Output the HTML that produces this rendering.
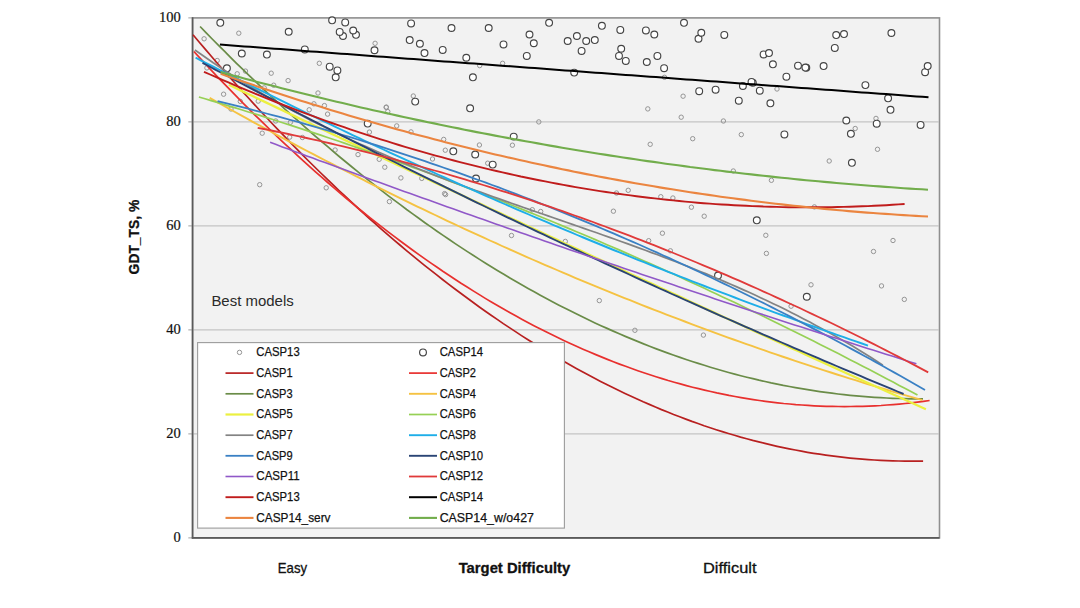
<!DOCTYPE html><html><head><meta charset="utf-8"><title>GDT_TS vs Target Difficulty</title><style>html,body{margin:0;padding:0;background:#fff;width:1080px;height:608px;overflow:hidden}svg{display:block}.ax{font-family:"Liberation Serif",serif;font-size:14.5px;fill:#111;stroke:#111;stroke-width:0.2px}.lg{font-family:"Liberation Sans",sans-serif;font-size:13px;fill:#111;stroke:#111;stroke-width:0.25px}.lb{font-family:"Liberation Sans",sans-serif;font-size:14.8px;fill:#111;stroke:#111;stroke-width:0.3px}</style></head><body>
<svg width="1080" height="608" viewBox="0 0 1080 608">
<rect x="0" y="0" width="1080" height="608" fill="#ffffff"/>
<rect x="192.5" y="17.9" width="747" height="520" fill="#f2f2f2" stroke="#8f8f8f" stroke-width="1.6"/>
<line x1="193" x2="939" y1="433.9" y2="433.9" stroke="#c4c4c4" stroke-width="1.3"/>
<line x1="193" x2="939" y1="329.9" y2="329.9" stroke="#c4c4c4" stroke-width="1.3"/>
<line x1="193" x2="939" y1="225.9" y2="225.9" stroke="#c4c4c4" stroke-width="1.3"/>
<line x1="193" x2="939" y1="121.9" y2="121.9" stroke="#c4c4c4" stroke-width="1.3"/>
<line x1="188.3" x2="192.5" y1="537.9" y2="537.9" stroke="#a0a0a0" stroke-width="1"/>
<line x1="188.3" x2="192.5" y1="433.9" y2="433.9" stroke="#a0a0a0" stroke-width="1"/>
<line x1="188.3" x2="192.5" y1="329.9" y2="329.9" stroke="#a0a0a0" stroke-width="1"/>
<line x1="188.3" x2="192.5" y1="225.9" y2="225.9" stroke="#a0a0a0" stroke-width="1"/>
<line x1="188.3" x2="192.5" y1="121.9" y2="121.9" stroke="#a0a0a0" stroke-width="1"/>
<line x1="188.3" x2="192.5" y1="17.9" y2="17.9" stroke="#a0a0a0" stroke-width="1"/>
<line x1="192.6" x2="192.6" y1="17.2" y2="538.6" stroke="#5a5a5a" stroke-width="1.6"/>
<line x1="191.8" x2="939.5" y1="537.9" y2="537.9" stroke="#5a5a5a" stroke-width="1.6"/>
<text class="ax" x="180.8" y="541.9" text-anchor="end">0</text>
<text class="ax" x="180.8" y="437.9" text-anchor="end">20</text>
<text class="ax" x="180.8" y="333.9" text-anchor="end">40</text>
<text class="ax" x="180.8" y="229.9" text-anchor="end">60</text>
<text class="ax" x="180.8" y="125.9" text-anchor="end">80</text>
<text class="ax" x="180.8" y="21.9" text-anchor="end">100</text>
<g fill="none" stroke="#959595" stroke-width="1">
<circle cx="238.8" cy="33.2" r="2.2"/>
<circle cx="204.1" cy="38.8" r="2.2"/>
<circle cx="375.1" cy="43.3" r="2.2"/>
<circle cx="217.2" cy="60.5" r="2.2"/>
<circle cx="206.9" cy="67.9" r="2.2"/>
<circle cx="237.2" cy="73.8" r="2.2"/>
<circle cx="245.5" cy="71.1" r="2.2"/>
<circle cx="271.2" cy="73.2" r="2.2"/>
<circle cx="288.1" cy="80.6" r="2.2"/>
<circle cx="319.3" cy="63.3" r="2.2"/>
<circle cx="273.7" cy="85.2" r="2.2"/>
<circle cx="264.2" cy="87.9" r="2.2"/>
<circle cx="223.6" cy="94.2" r="2.2"/>
<circle cx="240.3" cy="101.4" r="2.2"/>
<circle cx="258.2" cy="101.1" r="2.2"/>
<circle cx="318.0" cy="93.0" r="2.2"/>
<circle cx="313.9" cy="103.8" r="2.2"/>
<circle cx="324.4" cy="105.6" r="2.2"/>
<circle cx="309.2" cy="109.8" r="2.2"/>
<circle cx="327.6" cy="114.1" r="2.2"/>
<circle cx="386.2" cy="107.4" r="2.2"/>
<circle cx="387.8" cy="111.6" r="2.2"/>
<circle cx="231.0" cy="109.0" r="2.2"/>
<circle cx="275.7" cy="121.0" r="2.2"/>
<circle cx="290.4" cy="122.3" r="2.2"/>
<circle cx="262.2" cy="133.2" r="2.2"/>
<circle cx="289.7" cy="137.1" r="2.2"/>
<circle cx="302.4" cy="137.5" r="2.2"/>
<circle cx="335.1" cy="150.0" r="2.2"/>
<circle cx="358.0" cy="154.6" r="2.2"/>
<circle cx="379.2" cy="159.3" r="2.2"/>
<circle cx="384.8" cy="167.2" r="2.2"/>
<circle cx="259.7" cy="184.7" r="2.2"/>
<circle cx="326.2" cy="187.8" r="2.2"/>
<circle cx="389.4" cy="201.6" r="2.2"/>
<circle cx="369.4" cy="132.1" r="2.2"/>
<circle cx="396.7" cy="125.9" r="2.2"/>
<circle cx="411.0" cy="131.9" r="2.2"/>
<circle cx="400.9" cy="177.9" r="2.2"/>
<circle cx="413.3" cy="96.0" r="2.2"/>
<circle cx="386.3" cy="107.1" r="2.2"/>
<circle cx="443.7" cy="139.4" r="2.2"/>
<circle cx="479.4" cy="145.0" r="2.2"/>
<circle cx="512.4" cy="145.2" r="2.2"/>
<circle cx="445.3" cy="150.2" r="2.2"/>
<circle cx="432.5" cy="159.0" r="2.2"/>
<circle cx="487.7" cy="163.2" r="2.2"/>
<circle cx="421.8" cy="178.4" r="2.2"/>
<circle cx="444.6" cy="193.6" r="2.2"/>
<circle cx="445.6" cy="194.6" r="2.2"/>
<circle cx="532.3" cy="209.7" r="2.2"/>
<circle cx="540.7" cy="211.5" r="2.2"/>
<circle cx="538.8" cy="121.9" r="2.2"/>
<circle cx="479.7" cy="65.6" r="2.2"/>
<circle cx="502.6" cy="63.3" r="2.2"/>
<circle cx="664.5" cy="77.3" r="2.2"/>
<circle cx="683.1" cy="96.2" r="2.2"/>
<circle cx="647.8" cy="108.9" r="2.2"/>
<circle cx="681.2" cy="117.2" r="2.2"/>
<circle cx="723.4" cy="121.0" r="2.2"/>
<circle cx="777.0" cy="89.0" r="2.2"/>
<circle cx="876.0" cy="118.4" r="2.2"/>
<circle cx="855.2" cy="128.5" r="2.2"/>
<circle cx="650.2" cy="144.3" r="2.2"/>
<circle cx="692.7" cy="138.7" r="2.2"/>
<circle cx="741.3" cy="134.6" r="2.2"/>
<circle cx="733.3" cy="171.0" r="2.2"/>
<circle cx="771.4" cy="180.3" r="2.2"/>
<circle cx="616.5" cy="193.0" r="2.2"/>
<circle cx="628.2" cy="190.3" r="2.2"/>
<circle cx="660.8" cy="196.7" r="2.2"/>
<circle cx="672.9" cy="198.0" r="2.2"/>
<circle cx="691.4" cy="207.2" r="2.2"/>
<circle cx="613.4" cy="211.2" r="2.2"/>
<circle cx="877.5" cy="149.3" r="2.2"/>
<circle cx="829.2" cy="161.0" r="2.2"/>
<circle cx="814.4" cy="206.9" r="2.2"/>
<circle cx="704.2" cy="216.2" r="2.2"/>
<circle cx="662.4" cy="233.2" r="2.2"/>
<circle cx="648.7" cy="240.7" r="2.2"/>
<circle cx="670.4" cy="250.8" r="2.2"/>
<circle cx="765.8" cy="235.3" r="2.2"/>
<circle cx="766.4" cy="253.4" r="2.2"/>
<circle cx="791.1" cy="306.2" r="2.2"/>
<circle cx="811.0" cy="284.8" r="2.2"/>
<circle cx="599.3" cy="300.6" r="2.2"/>
<circle cx="634.9" cy="330.3" r="2.2"/>
<circle cx="703.4" cy="335.1" r="2.2"/>
<circle cx="511.5" cy="235.5" r="2.2"/>
<circle cx="565.3" cy="241.4" r="2.2"/>
<circle cx="893.0" cy="240.5" r="2.2"/>
<circle cx="873.5" cy="251.5" r="2.2"/>
<circle cx="881.5" cy="285.9" r="2.2"/>
<circle cx="904.3" cy="299.4" r="2.2"/>
</g>
<g fill="#ffffff" stroke="#454545" stroke-width="1.15">
<circle cx="806.8" cy="296.7" r="3.4"/>
<circle cx="718.0" cy="275.5" r="3.4"/>
<circle cx="756.8" cy="220.3" r="3.4"/>
<circle cx="476.0" cy="178.5" r="3.4"/>
<circle cx="492.7" cy="164.6" r="3.4"/>
<circle cx="851.9" cy="162.8" r="3.4"/>
<circle cx="475.2" cy="154.5" r="3.4"/>
<circle cx="453.3" cy="151.3" r="3.4"/>
<circle cx="513.7" cy="136.6" r="3.4"/>
<circle cx="784.4" cy="134.4" r="3.4"/>
<circle cx="850.9" cy="133.8" r="3.4"/>
<circle cx="920.6" cy="124.9" r="3.4"/>
<circle cx="876.7" cy="123.7" r="3.4"/>
<circle cx="367.7" cy="123.6" r="3.4"/>
<circle cx="846.3" cy="120.5" r="3.4"/>
<circle cx="890.5" cy="109.8" r="3.4"/>
<circle cx="470.1" cy="108.3" r="3.4"/>
<circle cx="770.4" cy="103.3" r="3.4"/>
<circle cx="415.2" cy="101.6" r="3.4"/>
<circle cx="738.8" cy="100.7" r="3.4"/>
<circle cx="888.1" cy="98.3" r="3.4"/>
<circle cx="699.2" cy="91.2" r="3.4"/>
<circle cx="759.8" cy="90.7" r="3.4"/>
<circle cx="715.6" cy="89.7" r="3.4"/>
<circle cx="742.9" cy="86.0" r="3.4"/>
<circle cx="865.4" cy="85.1" r="3.4"/>
<circle cx="752.8" cy="82.8" r="3.4"/>
<circle cx="751.5" cy="81.9" r="3.4"/>
<circle cx="335.7" cy="77.3" r="3.4"/>
<circle cx="472.9" cy="77.3" r="3.4"/>
<circle cx="786.4" cy="76.7" r="3.4"/>
<circle cx="574.2" cy="72.6" r="3.4"/>
<circle cx="925.1" cy="72.2" r="3.4"/>
<circle cx="337.4" cy="70.4" r="3.4"/>
<circle cx="226.9" cy="68.3" r="3.4"/>
<circle cx="664.1" cy="68.2" r="3.4"/>
<circle cx="806.3" cy="67.8" r="3.4"/>
<circle cx="805.4" cy="67.6" r="3.4"/>
<circle cx="329.7" cy="66.7" r="3.4"/>
<circle cx="823.6" cy="66.1" r="3.4"/>
<circle cx="927.7" cy="66.1" r="3.4"/>
<circle cx="798.0" cy="65.7" r="3.4"/>
<circle cx="772.9" cy="64.3" r="3.4"/>
<circle cx="646.8" cy="62.0" r="3.4"/>
<circle cx="625.8" cy="60.9" r="3.4"/>
<circle cx="466.3" cy="57.8" r="3.4"/>
<circle cx="526.8" cy="55.9" r="3.4"/>
<circle cx="619.0" cy="55.9" r="3.4"/>
<circle cx="657.4" cy="55.9" r="3.4"/>
<circle cx="266.9" cy="54.6" r="3.4"/>
<circle cx="763.6" cy="54.4" r="3.4"/>
<circle cx="241.8" cy="53.5" r="3.4"/>
<circle cx="424.5" cy="53.1" r="3.4"/>
<circle cx="769.0" cy="53.1" r="3.4"/>
<circle cx="581.6" cy="50.9" r="3.4"/>
<circle cx="374.5" cy="50.3" r="3.4"/>
<circle cx="442.7" cy="49.9" r="3.4"/>
<circle cx="304.8" cy="49.4" r="3.4"/>
<circle cx="621.2" cy="48.8" r="3.4"/>
<circle cx="834.8" cy="47.9" r="3.4"/>
<circle cx="503.5" cy="44.4" r="3.4"/>
<circle cx="419.9" cy="43.8" r="3.4"/>
<circle cx="533.8" cy="43.3" r="3.4"/>
<circle cx="567.7" cy="41.0" r="3.4"/>
<circle cx="586.2" cy="41.0" r="3.4"/>
<circle cx="409.7" cy="40.1" r="3.4"/>
<circle cx="594.8" cy="40.1" r="3.4"/>
<circle cx="698.5" cy="38.8" r="3.4"/>
<circle cx="343.0" cy="36.0" r="3.4"/>
<circle cx="576.9" cy="36.0" r="3.4"/>
<circle cx="836.2" cy="35.1" r="3.4"/>
<circle cx="724.3" cy="34.9" r="3.4"/>
<circle cx="356.0" cy="34.8" r="3.4"/>
<circle cx="529.5" cy="34.5" r="3.4"/>
<circle cx="654.3" cy="34.5" r="3.4"/>
<circle cx="844.0" cy="34.1" r="3.4"/>
<circle cx="891.4" cy="33.0" r="3.4"/>
<circle cx="701.3" cy="32.7" r="3.4"/>
<circle cx="339.7" cy="31.9" r="3.4"/>
<circle cx="288.7" cy="31.7" r="3.4"/>
<circle cx="353.2" cy="30.5" r="3.4"/>
<circle cx="645.9" cy="30.4" r="3.4"/>
<circle cx="620.3" cy="29.9" r="3.4"/>
<circle cx="451.5" cy="28.0" r="3.4"/>
<circle cx="488.7" cy="28.0" r="3.4"/>
<circle cx="601.9" cy="25.8" r="3.4"/>
<circle cx="411.1" cy="23.4" r="3.4"/>
<circle cx="220.3" cy="22.8" r="3.4"/>
<circle cx="549.1" cy="22.8" r="3.4"/>
<circle cx="684.0" cy="22.8" r="3.4"/>
<circle cx="345.2" cy="22.4" r="3.4"/>
<circle cx="332.1" cy="20.3" r="3.4"/>
</g>
<g fill="none" stroke-linecap="butt" stroke-linejoin="round">
<path d="M193.0 34.8 L199.1 42.0 L205.2 49.1 L211.3 56.2 L217.3 63.2 L223.4 70.1 L229.5 77.0 L235.6 83.8 L241.7 90.6 L247.8 97.3 L253.8 103.9 L259.9 110.5 L266.0 117.0 L272.1 123.5 L278.2 129.9 L284.3 136.2 L290.3 142.5 L296.4 148.7 L302.5 154.9 L308.6 161.0 L314.7 167.0 L320.8 173.0 L326.9 178.9 L332.9 184.7 L339.0 190.5 L345.1 196.2 L351.2 201.9 L357.3 207.5 L363.4 213.0 L369.4 218.5 L375.5 223.9 L381.6 229.3 L387.7 234.6 L393.8 239.8 L399.9 245.0 L405.9 250.1 L412.0 255.1 L418.1 260.1 L424.2 265.1 L430.3 269.9 L436.4 274.7 L442.5 279.5 L448.5 284.2 L454.6 288.8 L460.7 293.3 L466.8 297.8 L472.9 302.3 L479.0 306.7 L485.0 311.0 L491.1 315.2 L497.2 319.4 L503.3 323.6 L509.4 327.6 L515.5 331.6 L521.5 335.6 L527.6 339.5 L533.7 343.3 L539.8 347.1 L545.9 350.8 L552.0 354.4 L558.0 358.0 L564.1 361.5 L570.2 365.0 L576.3 368.4 L582.4 371.7 L588.5 375.0 L594.6 378.2 L600.6 381.4 L606.7 384.5 L612.8 387.5 L618.9 390.5 L625.0 393.4 L631.1 396.2 L637.1 399.0 L643.2 401.8 L649.3 404.4 L655.4 407.0 L661.5 409.6 L667.6 412.0 L673.6 414.5 L679.7 416.8 L685.8 419.1 L691.9 421.4 L698.0 423.5 L704.1 425.7 L710.2 427.7 L716.2 429.7 L722.3 431.6 L728.4 433.5 L734.5 435.3 L740.6 437.1 L746.7 438.7 L752.7 440.4 L758.8 441.9 L764.9 443.4 L771.0 444.9 L777.1 446.3 L783.2 447.6 L789.2 448.8 L795.3 450.0 L801.4 451.2 L807.5 452.3 L813.6 453.3 L819.7 454.2 L825.8 455.1 L831.8 455.9 L837.9 456.7 L844.0 457.4 L850.1 458.1 L856.2 458.7 L862.3 459.2 L868.3 459.6 L874.4 460.0 L880.5 460.4 L886.6 460.7 L892.7 460.9 L898.8 461.0 L904.8 461.1 L910.9 461.2 L917.0 461.1 L923.1 461.1" stroke="#b82020" stroke-width="1.7"/>
<path d="M193.9 51.5 L200.0 58.1 L206.1 64.7 L212.1 71.1 L218.2 77.6 L224.3 83.9 L230.4 90.2 L236.5 96.4 L242.5 102.6 L248.6 108.7 L254.7 114.8 L260.8 120.7 L266.9 126.7 L272.9 132.5 L279.0 138.3 L285.1 144.1 L291.2 149.7 L297.3 155.4 L303.3 160.9 L309.4 166.4 L315.5 171.8 L321.6 177.2 L327.7 182.5 L333.7 187.7 L339.8 192.9 L345.9 198.0 L352.0 203.1 L358.1 208.1 L364.1 213.0 L370.2 217.9 L376.3 222.7 L382.4 227.4 L388.5 232.1 L394.5 236.7 L400.6 241.3 L406.7 245.8 L412.8 250.2 L418.9 254.6 L424.9 258.9 L431.0 263.1 L437.1 267.3 L443.2 271.5 L449.3 275.5 L455.3 279.5 L461.4 283.5 L467.5 287.3 L473.6 291.1 L479.7 294.9 L485.7 298.6 L491.8 302.2 L497.9 305.8 L504.0 309.3 L510.1 312.7 L516.1 316.1 L522.2 319.4 L528.3 322.7 L534.4 325.9 L540.5 329.0 L546.5 332.1 L552.6 335.1 L558.7 338.0 L564.8 340.9 L570.9 343.7 L577.0 346.5 L583.0 349.2 L589.1 351.8 L595.2 354.4 L601.3 356.9 L607.4 359.4 L613.4 361.8 L619.5 364.1 L625.6 366.3 L631.7 368.5 L637.8 370.7 L643.8 372.8 L649.9 374.8 L656.0 376.7 L662.1 378.6 L668.2 380.5 L674.2 382.2 L680.3 383.9 L686.4 385.6 L692.5 387.2 L698.6 388.7 L704.6 390.1 L710.7 391.5 L716.8 392.9 L722.9 394.1 L729.0 395.4 L735.0 396.5 L741.1 397.6 L747.2 398.6 L753.3 399.6 L759.4 400.5 L765.4 401.3 L771.5 402.1 L777.6 402.8 L783.7 403.5 L789.8 404.0 L795.8 404.6 L801.9 405.0 L808.0 405.4 L814.1 405.8 L820.2 406.1 L826.2 406.3 L832.3 406.4 L838.4 406.5 L844.5 406.6 L850.6 406.5 L856.6 406.4 L862.7 406.3 L868.8 406.1 L874.9 405.8 L881.0 405.5 L887.0 405.0 L893.1 404.6 L899.2 404.1 L905.3 403.5 L911.4 402.8 L917.4 402.1 L923.5 401.3 L929.6 400.5" stroke="#e8302e" stroke-width="1.7"/>
<path d="M200.1 26.5 L206.2 32.8 L212.2 39.0 L218.3 45.1 L224.4 51.2 L230.5 57.3 L236.5 63.3 L242.6 69.2 L248.7 75.1 L254.8 80.9 L260.8 86.7 L266.9 92.4 L273.0 98.1 L279.1 103.7 L285.1 109.3 L291.2 114.8 L297.3 120.2 L303.4 125.6 L309.4 131.0 L315.5 136.3 L321.6 141.5 L327.7 146.7 L333.7 151.9 L339.8 157.0 L345.9 162.0 L352.0 167.0 L358.0 171.9 L364.1 176.8 L370.2 181.6 L376.3 186.4 L382.3 191.1 L388.4 195.8 L394.5 200.4 L400.6 204.9 L406.6 209.5 L412.7 213.9 L418.8 218.3 L424.9 222.7 L430.9 226.9 L437.0 231.2 L443.1 235.4 L449.2 239.5 L455.2 243.6 L461.3 247.6 L467.4 251.6 L473.5 255.5 L479.5 259.4 L485.6 263.2 L491.7 267.0 L497.8 270.7 L503.8 274.3 L509.9 277.9 L516.0 281.5 L522.1 285.0 L528.1 288.4 L534.2 291.8 L540.3 295.2 L546.4 298.5 L552.4 301.7 L558.5 304.9 L564.6 308.0 L570.7 311.1 L576.7 314.1 L582.8 317.1 L588.9 320.0 L595.0 322.9 L601.0 325.7 L607.1 328.4 L613.2 331.1 L619.3 333.8 L625.3 336.4 L631.4 338.9 L637.5 341.4 L643.6 343.9 L649.6 346.2 L655.7 348.6 L661.8 350.9 L667.9 353.1 L673.9 355.3 L680.0 357.4 L686.1 359.5 L692.2 361.5 L698.2 363.4 L704.3 365.3 L710.4 367.2 L716.5 369.0 L722.5 370.8 L728.6 372.5 L734.7 374.1 L740.8 375.7 L746.8 377.2 L752.9 378.7 L759.0 380.2 L765.1 381.5 L771.1 382.9 L777.2 384.1 L783.3 385.4 L789.4 386.5 L795.4 387.6 L801.5 388.7 L807.6 389.7 L813.7 390.7 L819.7 391.6 L825.8 392.4 L831.9 393.2 L838.0 394.0 L844.0 394.7 L850.1 395.3 L856.2 395.9 L862.3 396.4 L868.3 396.9 L874.4 397.3 L880.5 397.7 L886.6 398.0 L892.6 398.3 L898.7 398.5 L904.8 398.7 L910.9 398.8 L916.9 398.8 L923.0 398.8" stroke="#6a8c48" stroke-width="1.7"/>
<path d="M209.7 97.9 L215.8 101.3 L221.9 104.7 L228.0 108.1 L234.1 111.5 L240.2 114.9 L246.2 118.2 L252.3 121.6 L258.4 124.9 L264.5 128.2 L270.6 131.5 L276.7 134.8 L282.8 138.1 L288.9 141.3 L295.0 144.6 L301.1 147.8 L307.1 151.0 L313.2 154.2 L319.3 157.4 L325.4 160.5 L331.5 163.7 L337.6 166.8 L343.7 169.9 L349.8 173.0 L355.9 176.1 L362.0 179.2 L368.1 182.3 L374.1 185.3 L380.2 188.4 L386.3 191.4 L392.4 194.4 L398.5 197.4 L404.6 200.3 L410.7 203.3 L416.8 206.3 L422.9 209.2 L429.0 212.1 L435.1 215.0 L441.1 217.9 L447.2 220.8 L453.3 223.6 L459.4 226.5 L465.5 229.3 L471.6 232.1 L477.7 234.9 L483.8 237.7 L489.9 240.5 L496.0 243.2 L502.0 246.0 L508.1 248.7 L514.2 251.4 L520.3 254.1 L526.4 256.8 L532.5 259.5 L538.6 262.1 L544.7 264.8 L550.8 267.4 L556.9 270.0 L563.0 272.6 L569.0 275.2 L575.1 277.8 L581.2 280.3 L587.3 282.9 L593.4 285.4 L599.5 287.9 L605.6 290.4 L611.7 292.9 L617.8 295.3 L623.9 297.8 L630.0 300.2 L636.0 302.7 L642.1 305.1 L648.2 307.5 L654.3 309.8 L660.4 312.2 L666.5 314.6 L672.6 316.9 L678.7 319.2 L684.8 321.5 L690.9 323.8 L696.9 326.1 L703.0 328.4 L709.1 330.6 L715.2 332.8 L721.3 335.1 L727.4 337.3 L733.5 339.5 L739.6 341.6 L745.7 343.8 L751.8 345.9 L757.9 348.1 L763.9 350.2 L770.0 352.3 L776.1 354.4 L782.2 356.5 L788.3 358.5 L794.4 360.6 L800.5 362.6 L806.6 364.6 L812.7 366.6 L818.8 368.6 L824.9 370.6 L830.9 372.5 L837.0 374.5 L843.1 376.4 L849.2 378.3 L855.3 380.2 L861.4 382.1 L867.5 384.0 L873.6 385.8 L879.7 387.7 L885.8 389.5 L891.8 391.3 L897.9 393.1 L904.0 394.9 L910.1 396.7 L916.2 398.4 L922.3 400.2" stroke="#f5c242" stroke-width="1.9"/>
<path d="M228.9 84.8 L235.0 87.7 L241.0 90.6 L247.1 93.5 L253.1 96.3 L259.2 99.2 L265.3 102.1 L271.3 105.0 L277.4 107.9 L283.4 110.8 L289.5 113.7 L295.6 116.6 L301.6 119.5 L307.7 122.3 L313.8 125.2 L319.8 128.1 L325.9 131.0 L331.9 133.9 L338.0 136.7 L344.1 139.6 L350.1 142.5 L356.2 145.3 L362.2 148.2 L368.3 151.1 L374.4 154.0 L380.4 156.8 L386.5 159.7 L392.5 162.5 L398.6 165.4 L404.7 168.3 L410.7 171.1 L416.8 174.0 L422.8 176.8 L428.9 179.7 L435.0 182.6 L441.0 185.4 L447.1 188.3 L453.2 191.1 L459.2 194.0 L465.3 196.8 L471.3 199.7 L477.4 202.5 L483.5 205.3 L489.5 208.2 L495.6 211.0 L501.6 213.9 L507.7 216.7 L513.8 219.5 L519.8 222.4 L525.9 225.2 L531.9 228.0 L538.0 230.9 L544.1 233.7 L550.1 236.5 L556.2 239.4 L562.2 242.2 L568.3 245.0 L574.4 247.8 L580.4 250.6 L586.5 253.5 L592.6 256.3 L598.6 259.1 L604.7 261.9 L610.7 264.7 L616.8 267.5 L622.9 270.4 L628.9 273.2 L635.0 276.0 L641.0 278.8 L647.1 281.6 L653.2 284.4 L659.2 287.2 L665.3 290.0 L671.3 292.8 L677.4 295.6 L683.5 298.4 L689.5 301.2 L695.6 304.0 L701.6 306.8 L707.7 309.6 L713.8 312.4 L719.8 315.2 L725.9 318.0 L732.0 320.7 L738.0 323.5 L744.1 326.3 L750.1 329.1 L756.2 331.9 L762.3 334.7 L768.3 337.4 L774.4 340.2 L780.4 343.0 L786.5 345.8 L792.6 348.6 L798.6 351.3 L804.7 354.1 L810.7 356.9 L816.8 359.6 L822.9 362.4 L828.9 365.2 L835.0 367.9 L841.0 370.7 L847.1 373.5 L853.2 376.2 L859.2 379.0 L865.3 381.7 L871.4 384.5 L877.4 387.2 L883.5 390.0 L889.5 392.8 L895.6 395.5 L901.7 398.3 L907.7 401.0 L913.8 403.8 L919.8 406.5 L925.9 409.2" stroke="#ecf040" stroke-width="2.3"/>
<path d="M198.9 97.0 L205.0 98.8 L211.1 100.6 L217.2 102.4 L223.3 104.2 L229.3 106.1 L235.4 107.9 L241.5 109.8 L247.6 111.7 L253.7 113.5 L259.8 115.4 L265.9 117.4 L272.0 119.3 L278.1 121.2 L284.2 123.2 L290.2 125.1 L296.3 127.1 L302.4 129.1 L308.5 131.1 L314.6 133.1 L320.7 135.1 L326.8 137.2 L332.9 139.2 L339.0 141.3 L345.1 143.4 L351.1 145.5 L357.2 147.6 L363.3 149.7 L369.4 151.8 L375.5 153.9 L381.6 156.1 L387.7 158.3 L393.8 160.4 L399.9 162.6 L406.0 164.8 L412.0 167.1 L418.1 169.3 L424.2 171.5 L430.3 173.8 L436.4 176.0 L442.5 178.3 L448.6 180.6 L454.7 182.9 L460.8 185.2 L466.9 187.6 L472.9 189.9 L479.0 192.3 L485.1 194.6 L491.2 197.0 L497.3 199.4 L503.4 201.8 L509.5 204.2 L515.6 206.7 L521.7 209.1 L527.8 211.6 L533.8 214.0 L539.9 216.5 L546.0 219.0 L552.1 221.5 L558.2 224.0 L564.3 226.6 L570.4 229.1 L576.5 231.7 L582.6 234.3 L588.6 236.8 L594.7 239.4 L600.8 242.0 L606.9 244.7 L613.0 247.3 L619.1 249.9 L625.2 252.6 L631.3 255.3 L637.4 258.0 L643.5 260.7 L649.5 263.4 L655.6 266.1 L661.7 268.8 L667.8 271.6 L673.9 274.3 L680.0 277.1 L686.1 279.9 L692.2 282.7 L698.3 285.5 L704.4 288.3 L710.4 291.2 L716.5 294.0 L722.6 296.9 L728.7 299.7 L734.8 302.6 L740.9 305.5 L747.0 308.4 L753.1 311.4 L759.2 314.3 L765.3 317.3 L771.3 320.2 L777.4 323.2 L783.5 326.2 L789.6 329.2 L795.7 332.2 L801.8 335.2 L807.9 338.3 L814.0 341.3 L820.1 344.4 L826.2 347.4 L832.2 350.5 L838.3 353.6 L844.4 356.8 L850.5 359.9 L856.6 363.0 L862.7 366.2 L868.8 369.3 L874.9 372.5 L881.0 375.7 L887.1 378.9 L893.1 382.1 L899.2 385.4 L905.3 388.6 L911.4 391.8 L917.5 395.1" stroke="#96d055" stroke-width="1.7"/>
<path d="M194.9 50.0 L201.0 54.3 L207.1 58.5 L213.2 62.7 L219.3 66.7 L225.3 70.7 L231.4 74.7 L237.5 78.6 L243.6 82.4 L249.7 86.1 L255.8 89.8 L261.9 93.4 L268.0 96.9 L274.1 100.4 L280.1 103.9 L286.2 107.2 L292.3 110.5 L298.4 113.8 L304.5 117.0 L310.6 120.2 L316.7 123.3 L322.8 126.3 L328.8 129.3 L334.9 132.3 L341.0 135.2 L347.1 138.1 L353.2 140.9 L359.3 143.7 L365.4 146.4 L371.5 149.1 L377.6 151.8 L383.6 154.4 L389.7 157.0 L395.8 159.6 L401.9 162.1 L408.0 164.6 L414.1 167.0 L420.2 169.5 L426.3 171.9 L432.4 174.2 L438.4 176.6 L444.5 178.9 L450.6 181.2 L456.7 183.5 L462.8 185.7 L468.9 188.0 L475.0 190.2 L481.1 192.4 L487.1 194.6 L493.2 196.8 L499.3 198.9 L505.4 201.1 L511.5 203.2 L517.6 205.4 L523.7 207.5 L529.8 209.6 L535.9 211.7 L541.9 213.8 L548.0 215.9 L554.1 218.0 L560.2 220.1 L566.3 222.2 L572.4 224.4 L578.5 226.5 L584.6 228.6 L590.7 230.7 L596.7 232.8 L602.8 235.0 L608.9 237.1 L615.0 239.3 L621.1 241.5 L627.2 243.6 L633.3 245.9 L639.4 248.1 L645.4 250.3 L651.5 252.6 L657.6 254.8 L663.7 257.1 L669.8 259.5 L675.9 261.8 L682.0 264.2 L688.1 266.6 L694.2 269.0 L700.2 271.5 L706.3 273.9 L712.4 276.5 L718.5 279.0 L724.6 281.6 L730.7 284.2 L736.8 286.9 L742.9 289.6 L749.0 292.3 L755.0 295.1 L761.1 297.9 L767.2 300.8 L773.3 303.7 L779.4 306.6 L785.5 309.6 L791.6 312.7 L797.7 315.8 L803.7 318.9 L809.8 322.1 L815.9 325.4 L822.0 328.7 L828.1 332.1 L834.2 335.5 L840.3 339.0 L846.4 342.5 L852.5 346.1 L858.5 349.8 L864.6 353.5 L870.7 357.3 L876.8 361.2 L882.9 365.1" stroke="#838383" stroke-width="1.7"/>
<path d="M195.6 57.7 L201.7 60.8 L207.7 63.8 L213.8 66.9 L219.8 70.0 L225.9 73.1 L231.9 76.1 L238.0 79.2 L244.1 82.2 L250.1 85.2 L256.2 88.2 L262.2 91.2 L268.3 94.2 L274.3 97.2 L280.4 100.2 L286.5 103.2 L292.5 106.1 L298.6 109.1 L304.6 112.0 L310.7 115.0 L316.8 117.9 L322.8 120.8 L328.9 123.7 L334.9 126.6 L341.0 129.5 L347.0 132.4 L353.1 135.3 L359.2 138.1 L365.2 141.0 L371.3 143.8 L377.3 146.6 L383.4 149.5 L389.4 152.3 L395.5 155.1 L401.6 157.9 L407.6 160.7 L413.7 163.4 L419.7 166.2 L425.8 169.0 L431.8 171.7 L437.9 174.5 L444.0 177.2 L450.0 179.9 L456.1 182.6 L462.1 185.3 L468.2 188.0 L474.3 190.7 L480.3 193.4 L486.4 196.1 L492.4 198.7 L498.5 201.4 L504.5 204.0 L510.6 206.6 L516.7 209.3 L522.7 211.9 L528.8 214.5 L534.8 217.1 L540.9 219.7 L546.9 222.2 L553.0 224.8 L559.1 227.4 L565.1 229.9 L571.2 232.4 L577.2 235.0 L583.3 237.5 L589.3 240.0 L595.4 242.5 L601.5 245.0 L607.5 247.5 L613.6 250.0 L619.6 252.4 L625.7 254.9 L631.8 257.3 L637.8 259.8 L643.9 262.2 L649.9 264.6 L656.0 267.0 L662.0 269.4 L668.1 271.8 L674.2 274.2 L680.2 276.6 L686.3 278.9 L692.3 281.3 L698.4 283.6 L704.4 286.0 L710.5 288.3 L716.6 290.6 L722.6 292.9 L728.7 295.2 L734.7 297.5 L740.8 299.8 L746.8 302.1 L752.9 304.4 L759.0 306.6 L765.0 308.9 L771.1 311.1 L777.1 313.3 L783.2 315.5 L789.3 317.7 L795.3 319.9 L801.4 322.1 L807.4 324.3 L813.5 326.5 L819.5 328.6 L825.6 330.8 L831.7 332.9 L837.7 335.1 L843.8 337.2 L849.8 339.3 L855.9 341.4 L861.9 343.5 L868.0 345.6" stroke="#1eaee8" stroke-width="1.9"/>
<path d="M217.6 101.2 L223.7 102.7 L229.8 104.2 L235.9 105.7 L242.0 107.2 L248.1 108.7 L254.2 110.3 L260.3 111.9 L266.4 113.5 L272.5 115.1 L278.6 116.7 L284.7 118.4 L290.8 120.0 L296.9 121.7 L303.0 123.4 L309.1 125.1 L315.2 126.9 L321.3 128.6 L327.4 130.4 L333.5 132.2 L339.6 134.0 L345.7 135.8 L351.8 137.7 L357.9 139.5 L364.0 141.4 L370.1 143.3 L376.2 145.2 L382.3 147.2 L388.4 149.1 L394.4 151.1 L400.5 153.1 L406.6 155.1 L412.7 157.1 L418.8 159.1 L424.9 161.2 L431.0 163.3 L437.1 165.3 L443.2 167.5 L449.3 169.6 L455.4 171.7 L461.5 173.9 L467.6 176.1 L473.7 178.3 L479.8 180.5 L485.9 182.7 L492.0 185.0 L498.1 187.2 L504.2 189.5 L510.3 191.8 L516.4 194.1 L522.5 196.5 L528.6 198.8 L534.7 201.2 L540.8 203.6 L546.9 206.0 L553.0 208.4 L559.1 210.9 L565.2 213.4 L571.3 215.8 L577.4 218.3 L583.5 220.8 L589.6 223.4 L595.7 225.9 L601.8 228.5 L607.9 231.1 L614.0 233.7 L620.1 236.3 L626.2 239.0 L632.3 241.6 L638.4 244.3 L644.5 247.0 L650.6 249.7 L656.7 252.4 L662.8 255.2 L668.9 257.9 L675.0 260.7 L681.1 263.5 L687.2 266.3 L693.3 269.2 L699.4 272.0 L705.5 274.9 L711.6 277.8 L717.7 280.7 L723.8 283.6 L729.9 286.5 L736.0 289.5 L742.1 292.5 L748.2 295.5 L754.2 298.5 L760.3 301.5 L766.4 304.5 L772.5 307.6 L778.6 310.7 L784.7 313.8 L790.8 316.9 L796.9 320.0 L803.0 323.2 L809.1 326.4 L815.2 329.6 L821.3 332.8 L827.4 336.0 L833.5 339.2 L839.6 342.5 L845.7 345.8 L851.8 349.1 L857.9 352.4 L864.0 355.7 L870.1 359.0 L876.2 362.4 L882.3 365.8 L888.4 369.2 L894.5 372.6 L900.6 376.0 L906.7 379.5 L912.8 383.0 L918.9 386.5 L925.0 390.0" stroke="#3a80c4" stroke-width="1.8"/>
<path d="M202.5 62.8 L208.6 66.0 L214.7 69.3 L220.8 72.5 L226.9 75.7 L233.0 79.0 L239.1 82.2 L245.2 85.4 L251.3 88.6 L257.4 91.8 L263.5 95.0 L269.6 98.2 L275.7 101.3 L281.8 104.5 L287.9 107.7 L293.9 110.8 L300.0 114.0 L306.1 117.1 L312.2 120.3 L318.3 123.4 L324.4 126.5 L330.5 129.6 L336.6 132.8 L342.7 135.9 L348.8 139.0 L354.9 142.1 L361.0 145.1 L367.1 148.2 L373.2 151.3 L379.3 154.4 L385.4 157.4 L391.5 160.5 L397.6 163.5 L403.7 166.6 L409.8 169.6 L415.9 172.6 L422.0 175.6 L428.1 178.7 L434.2 181.7 L440.3 184.7 L446.4 187.7 L452.5 190.7 L458.6 193.6 L464.7 196.6 L470.7 199.6 L476.8 202.6 L482.9 205.5 L489.0 208.5 L495.1 211.4 L501.2 214.3 L507.3 217.3 L513.4 220.2 L519.5 223.1 L525.6 226.0 L531.7 228.9 L537.8 231.8 L543.9 234.7 L550.0 237.6 L556.1 240.5 L562.2 243.4 L568.3 246.2 L574.4 249.1 L580.5 251.9 L586.6 254.8 L592.7 257.6 L598.8 260.5 L604.9 263.3 L611.0 266.1 L617.1 268.9 L623.2 271.7 L629.3 274.5 L635.4 277.3 L641.4 280.1 L647.5 282.9 L653.6 285.7 L659.7 288.5 L665.8 291.2 L671.9 294.0 L678.0 296.7 L684.1 299.5 L690.2 302.2 L696.3 304.9 L702.4 307.7 L708.5 310.4 L714.6 313.1 L720.7 315.8 L726.8 318.5 L732.9 321.2 L739.0 323.9 L745.1 326.6 L751.2 329.2 L757.3 331.9 L763.4 334.6 L769.5 337.2 L775.6 339.9 L781.7 342.5 L787.8 345.1 L793.9 347.8 L800.0 350.4 L806.1 353.0 L812.2 355.6 L818.2 358.2 L824.3 360.8 L830.4 363.4 L836.5 366.0 L842.6 368.6 L848.7 371.1 L854.8 373.7 L860.9 376.2 L867.0 378.8 L873.1 381.3 L879.2 383.9 L885.3 386.4 L891.4 388.9 L897.5 391.5 L903.6 394.0" stroke="#2a4475" stroke-width="1.9"/>
<path d="M270.1 142.3 L276.2 144.6 L282.3 146.9 L288.4 149.1 L294.5 151.4 L300.6 153.6 L306.7 155.9 L312.8 158.1 L318.9 160.4 L325.0 162.6 L331.1 164.8 L337.2 167.1 L343.3 169.3 L349.4 171.5 L355.5 173.7 L361.6 176.0 L367.7 178.2 L373.8 180.4 L379.8 182.6 L385.9 184.8 L392.0 187.0 L398.1 189.2 L404.2 191.4 L410.3 193.6 L416.4 195.8 L422.5 198.0 L428.6 200.1 L434.7 202.3 L440.8 204.5 L446.9 206.7 L453.0 208.8 L459.1 211.0 L465.2 213.2 L471.3 215.3 L477.4 217.5 L483.5 219.6 L489.6 221.8 L495.7 223.9 L501.8 226.0 L507.9 228.2 L514.0 230.3 L520.1 232.4 L526.2 234.6 L532.3 236.7 L538.4 238.8 L544.5 240.9 L550.6 243.1 L556.7 245.2 L562.8 247.3 L568.9 249.4 L575.0 251.5 L581.1 253.6 L587.2 255.7 L593.2 257.8 L599.3 259.8 L605.4 261.9 L611.5 264.0 L617.6 266.1 L623.7 268.2 L629.8 270.2 L635.9 272.3 L642.0 274.4 L648.1 276.4 L654.2 278.5 L660.3 280.5 L666.4 282.6 L672.5 284.6 L678.6 286.7 L684.7 288.7 L690.8 290.8 L696.9 292.8 L703.0 294.8 L709.1 296.8 L715.2 298.9 L721.3 300.9 L727.4 302.9 L733.5 304.9 L739.6 306.9 L745.7 308.9 L751.8 310.9 L757.9 312.9 L764.0 314.9 L770.1 316.9 L776.2 318.9 L782.3 320.9 L788.4 322.9 L794.5 324.9 L800.6 326.8 L806.7 328.8 L812.7 330.8 L818.8 332.8 L824.9 334.7 L831.0 336.7 L837.1 338.6 L843.2 340.6 L849.3 342.5 L855.4 344.5 L861.5 346.4 L867.6 348.4 L873.7 350.3 L879.8 352.2 L885.9 354.2 L892.0 356.1 L898.1 358.0 L904.2 359.9 L910.3 361.9 L916.4 363.8" stroke="#9058c8" stroke-width="1.6"/>
<path d="M257.7 127.8 L263.8 129.0 L269.9 130.2 L276.0 131.5 L282.1 132.7 L288.2 134.0 L294.3 135.3 L300.4 136.6 L306.5 138.0 L312.6 139.4 L318.7 140.7 L324.8 142.1 L330.8 143.5 L336.9 145.0 L343.0 146.4 L349.1 147.9 L355.2 149.4 L361.3 150.9 L367.4 152.4 L373.5 154.0 L379.6 155.6 L385.7 157.1 L391.8 158.7 L397.9 160.4 L404.0 162.0 L410.1 163.7 L416.2 165.3 L422.3 167.0 L428.4 168.8 L434.5 170.5 L440.6 172.2 L446.7 174.0 L452.8 175.8 L458.9 177.6 L464.9 179.4 L471.0 181.3 L477.1 183.1 L483.2 185.0 L489.3 186.9 L495.4 188.8 L501.5 190.8 L507.6 192.7 L513.7 194.7 L519.8 196.7 L525.9 198.7 L532.0 200.7 L538.1 202.8 L544.2 204.8 L550.3 206.9 L556.4 209.0 L562.5 211.2 L568.6 213.3 L574.7 215.5 L580.8 217.6 L586.9 219.8 L593.0 222.0 L599.0 224.3 L605.1 226.5 L611.2 228.8 L617.3 231.1 L623.4 233.4 L629.5 235.7 L635.6 238.1 L641.7 240.4 L647.8 242.8 L653.9 245.2 L660.0 247.6 L666.1 250.1 L672.2 252.5 L678.3 255.0 L684.4 257.5 L690.5 260.0 L696.6 262.5 L702.7 265.1 L708.8 267.6 L714.9 270.2 L721.0 272.8 L727.0 275.4 L733.1 278.1 L739.2 280.7 L745.3 283.4 L751.4 286.1 L757.5 288.8 L763.6 291.6 L769.7 294.3 L775.8 297.1 L781.9 299.9 L788.0 302.7 L794.1 305.5 L800.2 308.3 L806.3 311.2 L812.4 314.1 L818.5 317.0 L824.6 319.9 L830.7 322.8 L836.8 325.8 L842.9 328.8 L849.0 331.8 L855.1 334.8 L861.2 337.8 L867.2 340.9 L873.3 343.9 L879.4 347.0 L885.5 350.1 L891.6 353.2 L897.7 356.4 L903.8 359.5 L909.9 362.7 L916.0 365.9 L922.1 369.1 L928.2 372.4" stroke="#e03a3a" stroke-width="1.8"/>
<path d="M204.0 71.8 L210.1 74.5 L216.2 77.2 L222.3 79.8 L228.4 82.4 L234.5 85.1 L240.6 87.6 L246.6 90.2 L252.7 92.7 L258.8 95.2 L264.9 97.7 L271.0 100.1 L277.1 102.5 L283.2 104.9 L289.3 107.2 L295.4 109.6 L301.5 111.9 L307.6 114.1 L313.7 116.4 L319.8 118.6 L325.8 120.8 L331.9 123.0 L338.0 125.1 L344.1 127.2 L350.2 129.3 L356.3 131.3 L362.4 133.4 L368.5 135.4 L374.6 137.3 L380.7 139.3 L386.8 141.2 L392.9 143.1 L398.9 145.0 L405.0 146.8 L411.1 148.6 L417.2 150.4 L423.3 152.1 L429.4 153.9 L435.5 155.6 L441.6 157.2 L447.7 158.9 L453.8 160.5 L459.9 162.1 L466.0 163.6 L472.1 165.2 L478.1 166.7 L484.2 168.2 L490.3 169.6 L496.4 171.0 L502.5 172.4 L508.6 173.8 L514.7 175.1 L520.8 176.5 L526.9 177.7 L533.0 179.0 L539.1 180.2 L545.2 181.4 L551.3 182.6 L557.3 183.8 L563.4 184.9 L569.5 186.0 L575.6 187.1 L581.7 188.1 L587.8 189.1 L593.9 190.1 L600.0 191.1 L606.1 192.0 L612.2 192.9 L618.3 193.8 L624.4 194.6 L630.5 195.4 L636.5 196.2 L642.6 197.0 L648.7 197.7 L654.8 198.4 L660.9 199.1 L667.0 199.8 L673.1 200.4 L679.2 201.0 L685.3 201.6 L691.4 202.1 L697.5 202.7 L703.6 203.2 L709.7 203.6 L715.7 204.1 L721.8 204.5 L727.9 204.8 L734.0 205.2 L740.1 205.5 L746.2 205.8 L752.3 206.1 L758.4 206.3 L764.5 206.6 L770.6 206.8 L776.7 206.9 L782.8 207.1 L788.8 207.2 L794.9 207.2 L801.0 207.3 L807.1 207.3 L813.2 207.3 L819.3 207.3 L825.4 207.2 L831.5 207.2 L837.6 207.0 L843.7 206.9 L849.8 206.7 L855.9 206.5 L862.0 206.3 L868.0 206.1 L874.1 205.8 L880.2 205.5 L886.3 205.2 L892.4 204.8 L898.5 204.4 L904.6 204.0" stroke="#c01c1c" stroke-width="1.9"/>
<path d="M219.9 44.6 L226.0 45.0 L232.0 45.5 L238.1 45.9 L244.1 46.4 L250.2 46.8 L256.2 47.3 L262.3 47.7 L268.4 48.2 L274.4 48.7 L280.5 49.1 L286.5 49.6 L292.6 50.0 L298.6 50.5 L304.7 50.9 L310.7 51.4 L316.8 51.8 L322.9 52.3 L328.9 52.8 L335.0 53.2 L341.0 53.7 L347.1 54.1 L353.1 54.6 L359.2 55.0 L365.3 55.5 L371.3 55.9 L377.4 56.4 L383.4 56.8 L389.5 57.3 L395.5 57.7 L401.6 58.2 L407.6 58.7 L413.7 59.1 L419.8 59.6 L425.8 60.0 L431.9 60.5 L437.9 60.9 L444.0 61.4 L450.0 61.8 L456.1 62.3 L462.2 62.7 L468.2 63.2 L474.3 63.6 L480.3 64.1 L486.4 64.5 L492.4 65.0 L498.5 65.4 L504.6 65.9 L510.6 66.3 L516.7 66.8 L522.7 67.2 L528.8 67.7 L534.8 68.1 L540.9 68.6 L546.9 69.0 L553.0 69.5 L559.1 69.9 L565.1 70.4 L571.2 70.8 L577.2 71.3 L583.3 71.8 L589.3 72.2 L595.4 72.7 L601.5 73.1 L607.5 73.6 L613.6 74.0 L619.6 74.4 L625.7 74.9 L631.7 75.3 L637.8 75.8 L643.8 76.2 L649.9 76.7 L656.0 77.1 L662.0 77.6 L668.1 78.0 L674.1 78.5 L680.2 78.9 L686.2 79.4 L692.3 79.8 L698.4 80.3 L704.4 80.7 L710.5 81.2 L716.5 81.6 L722.6 82.1 L728.6 82.5 L734.7 83.0 L740.8 83.4 L746.8 83.9 L752.9 84.3 L758.9 84.8 L765.0 85.2 L771.0 85.7 L777.1 86.1 L783.1 86.6 L789.2 87.0 L795.3 87.4 L801.3 87.9 L807.4 88.3 L813.4 88.8 L819.5 89.2 L825.5 89.7 L831.6 90.1 L837.7 90.6 L843.7 91.0 L849.8 91.5 L855.8 91.9 L861.9 92.4 L867.9 92.8 L874.0 93.2 L880.0 93.7 L886.1 94.1 L892.2 94.6 L898.2 95.0 L904.3 95.5 L910.3 95.9 L916.4 96.4 L922.4 96.8 L928.5 97.3" stroke="#000000" stroke-width="2.0"/>
<path d="M220.7 73.8 L226.8 75.9 L232.9 78.1 L239.0 80.2 L245.1 82.3 L251.2 84.3 L257.3 86.4 L263.4 88.4 L269.5 90.5 L275.6 92.5 L281.7 94.5 L287.8 96.4 L293.9 98.4 L300.0 100.4 L306.1 102.3 L312.2 104.2 L318.3 106.1 L324.4 108.0 L330.5 109.9 L336.6 111.7 L342.6 113.5 L348.7 115.4 L354.8 117.2 L360.9 119.0 L367.0 120.7 L373.1 122.5 L379.2 124.2 L385.3 126.0 L391.4 127.7 L397.5 129.4 L403.6 131.1 L409.7 132.7 L415.8 134.4 L421.9 136.0 L428.0 137.6 L434.1 139.2 L440.2 140.8 L446.3 142.4 L452.4 143.9 L458.5 145.5 L464.6 147.0 L470.7 148.5 L476.8 150.0 L482.9 151.5 L489.0 152.9 L495.1 154.4 L501.2 155.8 L507.3 157.2 L513.4 158.6 L519.5 160.0 L525.6 161.3 L531.7 162.7 L537.8 164.0 L543.9 165.3 L550.0 166.6 L556.1 167.9 L562.2 169.2 L568.3 170.4 L574.3 171.7 L580.4 172.9 L586.5 174.1 L592.6 175.3 L598.7 176.5 L604.8 177.6 L610.9 178.8 L617.0 179.9 L623.1 181.0 L629.2 182.1 L635.3 183.2 L641.4 184.3 L647.5 185.3 L653.6 186.3 L659.7 187.4 L665.8 188.4 L671.9 189.3 L678.0 190.3 L684.1 191.3 L690.2 192.2 L696.3 193.1 L702.4 194.0 L708.5 194.9 L714.6 195.8 L720.7 196.7 L726.8 197.5 L732.9 198.3 L739.0 199.1 L745.1 199.9 L751.2 200.7 L757.3 201.5 L763.4 202.2 L769.5 203.0 L775.6 203.7 L781.7 204.4 L787.8 205.1 L793.9 205.8 L800.0 206.4 L806.1 207.0 L812.1 207.7 L818.2 208.3 L824.3 208.9 L830.4 209.4 L836.5 210.0 L842.6 210.5 L848.7 211.1 L854.8 211.6 L860.9 212.1 L867.0 212.6 L873.1 213.0 L879.2 213.5 L885.3 213.9 L891.4 214.3 L897.5 214.7 L903.6 215.1 L909.7 215.5 L915.8 215.9 L921.9 216.2 L928.0 216.5" stroke="#eb8540" stroke-width="2.1"/>
<path d="M220.7 72.1 L226.8 73.8 L232.9 75.4 L239.0 77.1 L245.1 78.7 L251.2 80.3 L257.3 81.9 L263.4 83.5 L269.5 85.1 L275.6 86.6 L281.7 88.2 L287.8 89.7 L293.9 91.3 L300.0 92.8 L306.1 94.3 L312.2 95.8 L318.3 97.3 L324.4 98.8 L330.5 100.2 L336.6 101.7 L342.6 103.1 L348.7 104.6 L354.8 106.0 L360.9 107.4 L367.0 108.8 L373.1 110.2 L379.2 111.6 L385.3 112.9 L391.4 114.3 L397.5 115.6 L403.6 117.0 L409.7 118.3 L415.8 119.6 L421.9 120.9 L428.0 122.2 L434.1 123.4 L440.2 124.7 L446.3 126.0 L452.4 127.2 L458.5 128.4 L464.6 129.7 L470.7 130.9 L476.8 132.1 L482.9 133.3 L489.0 134.4 L495.1 135.6 L501.2 136.7 L507.3 137.9 L513.4 139.0 L519.5 140.1 L525.6 141.2 L531.7 142.3 L537.8 143.4 L543.9 144.5 L550.0 145.6 L556.1 146.6 L562.2 147.7 L568.3 148.7 L574.3 149.7 L580.4 150.7 L586.5 151.7 L592.6 152.7 L598.7 153.7 L604.8 154.6 L610.9 155.6 L617.0 156.5 L623.1 157.5 L629.2 158.4 L635.3 159.3 L641.4 160.2 L647.5 161.1 L653.6 161.9 L659.7 162.8 L665.8 163.7 L671.9 164.5 L678.0 165.3 L684.1 166.1 L690.2 167.0 L696.3 167.7 L702.4 168.5 L708.5 169.3 L714.6 170.1 L720.7 170.8 L726.8 171.6 L732.9 172.3 L739.0 173.0 L745.1 173.7 L751.2 174.4 L757.3 175.1 L763.4 175.8 L769.5 176.4 L775.6 177.1 L781.7 177.7 L787.8 178.3 L793.9 179.0 L800.0 179.6 L806.1 180.2 L812.1 180.7 L818.2 181.3 L824.3 181.9 L830.4 182.4 L836.5 183.0 L842.6 183.5 L848.7 184.0 L854.8 184.5 L860.9 185.0 L867.0 185.5 L873.1 186.0 L879.2 186.4 L885.3 186.9 L891.4 187.3 L897.5 187.7 L903.6 188.2 L909.7 188.6 L915.8 189.0 L921.9 189.3 L928.0 189.7" stroke="#72ad4c" stroke-width="2.1"/>
</g>
<text class="lb" x="211.4" y="305.9" textLength="82.3" lengthAdjust="spacingAndGlyphs" style="stroke:none;fill:#2a2a2a">Best models</text>
<rect x="197.6" y="342.6" width="366.8" height="185.5" fill="#ffffff" stroke="#9c9c9c" stroke-width="1.1"/>
<circle cx="239.5" cy="352.4" r="2.2" fill="none" stroke="#959595" stroke-width="1"/>
<text class="lg" x="256.3" y="356.1" textLength="43.4" lengthAdjust="spacingAndGlyphs">CASP13</text>
<line x1="225.5" x2="253.5" y1="373.1" y2="373.1" stroke="#b82020" stroke-width="1.7"/>
<text class="lg" x="256.3" y="376.8" textLength="36.3" lengthAdjust="spacingAndGlyphs">CASP1</text>
<line x1="225.5" x2="253.5" y1="393.8" y2="393.8" stroke="#6a8c48" stroke-width="1.7"/>
<text class="lg" x="256.3" y="397.5" textLength="36.3" lengthAdjust="spacingAndGlyphs">CASP3</text>
<line x1="225.5" x2="253.5" y1="414.5" y2="414.5" stroke="#ecf040" stroke-width="2.2"/>
<text class="lg" x="256.3" y="418.2" textLength="36.3" lengthAdjust="spacingAndGlyphs">CASP5</text>
<line x1="225.5" x2="253.5" y1="435.2" y2="435.2" stroke="#838383" stroke-width="1.7"/>
<text class="lg" x="256.3" y="438.9" textLength="36.3" lengthAdjust="spacingAndGlyphs">CASP7</text>
<line x1="225.5" x2="253.5" y1="455.8" y2="455.8" stroke="#3a80c4" stroke-width="1.8"/>
<text class="lg" x="256.3" y="459.5" textLength="36.3" lengthAdjust="spacingAndGlyphs">CASP9</text>
<line x1="225.5" x2="253.5" y1="476.5" y2="476.5" stroke="#9058c8" stroke-width="1.6"/>
<text class="lg" x="256.3" y="480.2" textLength="43.4" lengthAdjust="spacingAndGlyphs">CASP11</text>
<line x1="225.5" x2="253.5" y1="497.2" y2="497.2" stroke="#c01c1c" stroke-width="1.9"/>
<text class="lg" x="256.3" y="500.9" textLength="43.4" lengthAdjust="spacingAndGlyphs">CASP13</text>
<line x1="225.5" x2="253.5" y1="517.9" y2="517.9" stroke="#eb8540" stroke-width="2.1"/>
<text class="lg" x="256.3" y="521.6" textLength="74.2" lengthAdjust="spacingAndGlyphs">CASP14_serv</text>
<circle cx="423.0" cy="352.4" r="3.4" fill="#fff" stroke="#404040" stroke-width="1.15"/>
<text class="lg" x="439.7" y="356.1" textLength="43.4" lengthAdjust="spacingAndGlyphs">CASP14</text>
<line x1="409.0" x2="437.0" y1="373.1" y2="373.1" stroke="#e8302e" stroke-width="1.7"/>
<text class="lg" x="439.7" y="376.8" textLength="36.3" lengthAdjust="spacingAndGlyphs">CASP2</text>
<line x1="409.0" x2="437.0" y1="393.8" y2="393.8" stroke="#f5c242" stroke-width="1.9"/>
<text class="lg" x="439.7" y="397.5" textLength="36.3" lengthAdjust="spacingAndGlyphs">CASP4</text>
<line x1="409.0" x2="437.0" y1="414.5" y2="414.5" stroke="#96d055" stroke-width="1.7"/>
<text class="lg" x="439.7" y="418.2" textLength="36.3" lengthAdjust="spacingAndGlyphs">CASP6</text>
<line x1="409.0" x2="437.0" y1="435.2" y2="435.2" stroke="#1eaee8" stroke-width="1.9"/>
<text class="lg" x="439.7" y="438.9" textLength="36.3" lengthAdjust="spacingAndGlyphs">CASP8</text>
<line x1="409.0" x2="437.0" y1="455.8" y2="455.8" stroke="#2a4475" stroke-width="1.9"/>
<text class="lg" x="439.7" y="459.5" textLength="43.4" lengthAdjust="spacingAndGlyphs">CASP10</text>
<line x1="409.0" x2="437.0" y1="476.5" y2="476.5" stroke="#e03a3a" stroke-width="1.8"/>
<text class="lg" x="439.7" y="480.2" textLength="43.4" lengthAdjust="spacingAndGlyphs">CASP12</text>
<line x1="409.0" x2="437.0" y1="497.2" y2="497.2" stroke="#000000" stroke-width="2.0"/>
<text class="lg" x="439.7" y="500.9" textLength="43.4" lengthAdjust="spacingAndGlyphs">CASP14</text>
<line x1="409.0" x2="437.0" y1="517.9" y2="517.9" stroke="#72ad4c" stroke-width="2.1"/>
<text class="lg" x="439.7" y="521.6" textLength="94.2" lengthAdjust="spacingAndGlyphs">CASP14_w/o427</text>
<text class="lb" x="277.8" y="572.9" textLength="29.3" lengthAdjust="spacingAndGlyphs">Easy</text>
<text class="lb" x="458.7" y="572.6" textLength="111.5" lengthAdjust="spacingAndGlyphs" font-weight="bold">Target Difficulty</text>
<text class="lb" x="703" y="573" textLength="53.5" lengthAdjust="spacingAndGlyphs">Difficult</text>
<text class="lb" transform="translate(139.3,274.4) rotate(-90)" x="0" y="0" textLength="74.7" lengthAdjust="spacingAndGlyphs" font-weight="bold" style="font-size:15.2px">GDT_TS, %</text>
</svg></body></html>
